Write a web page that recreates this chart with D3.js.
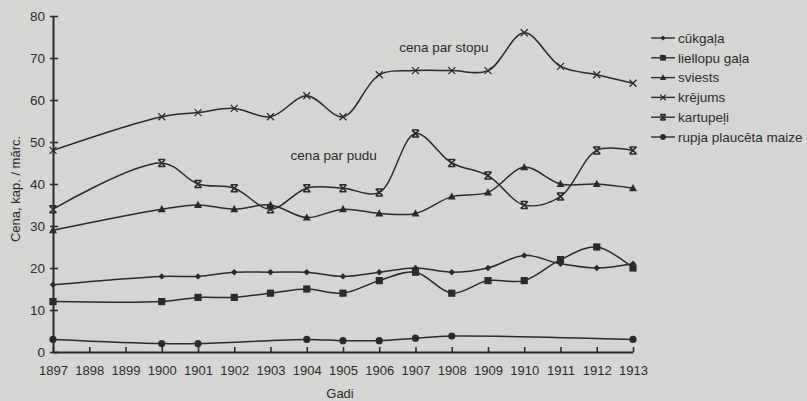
<!DOCTYPE html>
<html>
<head>
<meta charset="utf-8">
<script src="https://cdn.jsdelivr.net/npm/d3@7"></script>
<style>
  html, body { margin: 0; padding: 0; background: #d5d5d3; }
  svg { display: block; font-family: "Liberation Sans", Arial, sans-serif; }
</style>
</head>
<body>
<div id="chart"></div>
<script>
'use strict';

var years = [1897, 1900, 1901, 1902, 1903, 1904, 1905, 1906, 1907, 1908, 1909, 1910, 1911, 1912, 1913];
var xTicks = d3.range(1897, 1914);
var yTicks = [0, 10, 20, 30, 40, 50, 60, 70, 80];

var cukgala    = [16, 18, 18, 19, 19, 19, 18, 19, 20, 19, 20, 23, 21, 20, 21];
var liellopu   = [12, 12, 13, 13, 14, 15, 14, 17, 19, 14, 17, 17, 22, 25, 20];
var sviests    = [29, 34, 35, 34, 35, 32, 34, 33, 33, 37, 38, 44, 40, 40, 39];
var krejums    = [48, 56, 57, 58, 56, 61, 56, 66, 67, 67, 67, 76, 68, 66, 64];
var kartupeli  = [34, 45, 40, 39, 34, 39, 39, 38, 52, 45, 42, 35, 37, 48, 48];
var maize      = [3, 2, 2, null, null, 3, 2.7, 2.7, 3.3, 3.8, null, null, null, null, 3];

var seriesNames = ['cūkgaļa', 'liellopu gaļa', 'sviests', 'krējums', 'kartupeļi', 'rupja plaucēta maize'];
var seriesValues = [cukgala, liellopu, sviests, krejums, kartupeli, maize];
var seriesMarks = ['diamond', 'square', 'triangle', 'cross', 'barcross', 'circle'];

var notes = [
    { text: 'cena par stopu', year: 1906.55, value: 71.4 },
    { text: 'cena par pudu',  year: 1903.55, value: 45.6 }
];

var svgWidth = 807, svgHeight = 401;
var margin = { left: 53, right: 174, top: 16, bottom: 49 };
var ink = '#2b2b2b';

var svg = d3.select('#chart').append('svg')
    .attr('width', svgWidth)
    .attr('height', svgHeight);

var x = d3.scaleLinear().domain([1897, 1913]).range([margin.left, svgWidth - margin.right]);
var y = d3.scaleLinear().domain([0, 80]).range([svgHeight - margin.bottom, margin.top]);

// axes
var gy = svg.append('g')
    .attr('transform', 'translate(' + x(1897) + ',0)')
    .call(d3.axisLeft(y).tickValues(yTicks).tickSize(3).tickPadding(5).tickSizeOuter(0));
gy.select('.domain').attr('stroke', ink).attr('stroke-width', 2);
gy.selectAll('.tick line').attr('x1', -3).attr('x2', 5).attr('stroke', ink).attr('stroke-width', 1.6);
gy.selectAll('.tick text').attr('fill', ink).style('font-size', '13.5px');

var gx = svg.append('g')
    .attr('transform', 'translate(0,' + y(0) + ')')
    .call(d3.axisBottom(x).tickValues(xTicks).tickFormat(d3.format('d')).tickSize(-5).tickPadding(14).tickSizeOuter(0));
gx.select('.domain').attr('stroke', ink).attr('stroke-width', 2);
gx.selectAll('.tick line').attr('stroke', ink).attr('stroke-width', 1.6);
gx.selectAll('.tick text').attr('fill', ink).style('font-size', '13px');

svg.append('text')
    .attr('x', (x(1897) + x(1913)) / 2 - 3)
    .attr('y', 398)
    .attr('text-anchor', 'middle')
    .attr('fill', ink)
    .style('font-size', '13px')
    .text('Gadi');

svg.append('text')
    .attr('transform', 'translate(20,' + 189 + ') rotate(-90)')
    .attr('text-anchor', 'middle')
    .attr('fill', ink)
    .style('font-size', '13px')
    .text('Cena, kap. / mārc.');

// markers
function drawMark(g, type, s) {
    if (type === 'diamond') {
        g.append('path').attr('d', 'M0,' + (-3.2 * s) + 'L' + (3.2 * s) + ',0L0,' + (3.2 * s) + 'L' + (-3.2 * s) + ',0Z').attr('fill', ink);
    } else if (type === 'square') {
        g.append('rect').attr('x', -3.6 * s).attr('y', -3.6 * s).attr('width', 7.2 * s).attr('height', 7.2 * s).attr('fill', ink);
    } else if (type === 'triangle') {
        g.append('path').attr('d', 'M0,' + (-4.2 * s) + 'L' + (4 * s) + ',' + (3 * s) + 'L' + (-4 * s) + ',' + (3 * s) + 'Z').attr('fill', ink);
    } else if (type === 'cross') {
        var c = 3.5 * s;
        g.append('path').attr('d', 'M' + (-c) + ',' + (-c) + 'L' + c + ',' + c + 'M' + (-c) + ',' + c + 'L' + c + ',' + (-c))
            .attr('stroke', ink).attr('stroke-width', 1.3).attr('fill', 'none');
    } else if (type === 'barcross') {
        var b = 3.5 * s;
        g.append('path').attr('d', 'M' + (-b) + ',' + (-b) + 'L' + b + ',' + b + 'M' + (-b) + ',' + b + 'L' + b + ',' + (-b) +
                'M' + (-b) + ',' + (-b) + 'L' + b + ',' + (-b) + 'M' + (-b) + ',' + b + 'L' + b + ',' + b)
            .attr('stroke', ink).attr('stroke-width', 1.5).attr('fill', 'none');
    } else {
        g.append('circle').attr('r', 3.6 * s).attr('fill', ink);
    }
}

var line = d3.line()
    .x(function(d) { return x(d.year); })
    .y(function(d) { return y(d.value); })
    .curve(d3.curveCatmullRom.alpha(0.5));

seriesValues.forEach(function(vals, i) {
    var pts = years.map(function(yr, j) { return { year: yr, value: vals[j] }; })
        .filter(function(d) { return d.value !== null; });

    svg.append('path')
        .datum(pts)
        .attr('d', line)
        .attr('fill', 'none')
        .attr('stroke', ink)
        .attr('stroke-width', 1.5);

    svg.append('g').selectAll('g')
        .data(pts)
        .enter().append('g')
        .attr('transform', function(d) { return 'translate(' + x(d.year) + ',' + y(d.value) + ')'; })
        .each(function() { drawMark(d3.select(this), seriesMarks[i], 1); });
});

// annotations
svg.selectAll('.note')
    .data(notes)
    .enter().append('text')
    .attr('class', 'note')
    .attr('x', function(d) { return x(d.year); })
    .attr('y', function(d) { return y(d.value); })
    .attr('fill', ink)
    .style('font-size', '13.5px')
    .text(function(d) { return d.text; });

// legend
var legend = svg.append('g').attr('transform', 'translate(651,38)');
var item = legend.selectAll('g')
    .data(seriesNames)
    .enter().append('g')
    .attr('transform', function(d, i) { return 'translate(0,' + (i * 19.8) + ')'; });

item.append('line')
    .attr('x1', 0).attr('x2', 24)
    .attr('stroke', ink).attr('stroke-width', 1.4);
item.append('g')
    .attr('transform', 'translate(12,0)')
    .each(function(d, i) { drawMark(d3.select(this), seriesMarks[i], 0.8); });
item.append('text')
    .attr('x', 27)
    .attr('dy', '0.35em')
    .attr('fill', ink)
    .style('font-size', '13.5px')
    .text(function(d) { return d; });
</script>
</body>
</html>
